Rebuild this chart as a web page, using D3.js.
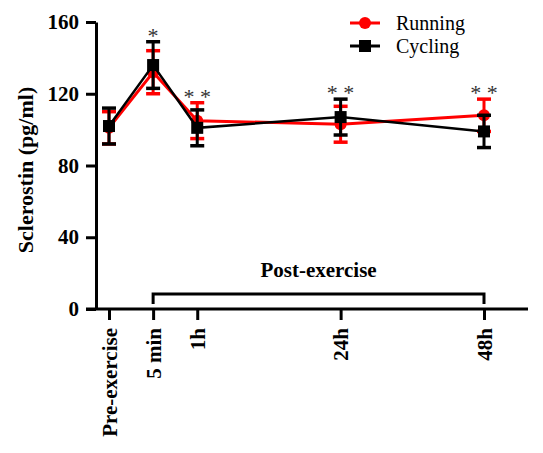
<!DOCTYPE html>
<html><head><meta charset="utf-8">
<script src="https://cdn.jsdelivr.net/npm/d3@7"></script>
<style>body{margin:0;background:#fff}svg{display:block}</style>
</head><body>
<svg id="c" width="543" height="453"></svg>
<script>
const categories = ["Pre-exercise", "5 min", "1h", "24h", "48h"];
const timePos = [0, 1, 2, 5.25, 8.5];
const runningMean = [101, 132, 105, 103, 108];
const runningErr = [9, 12, 10, 10, 9];
const cyclingMean = [102, 136, 101, 107, 99];
const cyclingErr = [10, 13, 10, 10, 9];
const significance = ["", "*", "* *", "* *", "* *"];
const yTicks = [0, 40, 80, 120, 160];

const svg = d3.select("#c");
const font = "'Liberation Serif', 'Times New Roman', serif";
const x = d3.scaleLinear().domain([0, 8.5]).range([109, 484]);
const y = d3.scaleLinear().domain([0, 160]).range([309, 22]);

// Y axis
const yAxis = svg.append("g").attr("transform", "translate(96,0)")
  .call(d3.axisLeft(y).tickValues(yTicks).tickSize(10).tickPadding(7).tickSizeOuter(0));
yAxis.select(".domain").attr("stroke", "#000").attr("stroke-width", 3);
yAxis.selectAll(".tick line").attr("stroke", "#000").attr("stroke-width", 3);
yAxis.selectAll(".tick text").attr("font-family", font).attr("font-weight", "bold")
  .attr("font-size", 21).attr("fill", "#000");

// X axis
const xAxis = svg.append("g").attr("transform", "translate(0,309)")
  .call(d3.axisBottom(x).tickValues(timePos).tickFormat((d, i) => categories[i]).tickSize(11).tickSizeOuter(0));
xAxis.select(".domain").remove();
xAxis.append("line").attr("x1", 86).attr("x2", 528).attr("y1", 0).attr("y2", 0)
  .attr("stroke", "#000").attr("stroke-width", 3);
xAxis.selectAll(".tick line").attr("stroke", "#000").attr("stroke-width", 3);
xAxis.selectAll(".tick text").attr("font-family", font).attr("font-weight", "bold")
  .attr("font-size", 21).attr("fill", "#000")
  .attr("transform", "rotate(-90)").attr("text-anchor", "end")
  .attr("x", -19).attr("y", 0).attr("dy", "0.35em");

// Y title
svg.append("text").attr("transform", "translate(33,170) rotate(-90)")
  .attr("text-anchor", "middle").attr("font-family", font).attr("font-weight", "bold")
  .attr("font-size", 22).text("Sclerostin (pg/ml)");

// Post-exercise bracket
const bx1 = x(timePos[1]), bx2 = x(timePos[4]);
svg.append("path").attr("d", `M${bx1},304 V294 H${bx2} V304`)
  .attr("fill", "none").attr("stroke", "#000").attr("stroke-width", 3);
svg.append("text").attr("x", (bx1 + bx2) / 2).attr("y", 277).attr("text-anchor", "middle")
  .attr("font-family", font).attr("font-weight", "bold").attr("font-size", 21).text("Post-exercise");

function drawSeries(mean, err, color, lw, marker) {
  const g = svg.append("g");
  const pts = mean.map((m, i) => ({ x: timePos[i], m, e: err[i] }));
  g.append("path").datum(pts)
    .attr("d", d3.line().x(d => x(d.x)).y(d => y(d.m)))
    .attr("fill", "none").attr("stroke", color).attr("stroke-width", lw);
  pts.forEach(d => {
    const cx = x(d.x);
    g.append("line").attr("x1", cx).attr("x2", cx).attr("y1", y(d.m - d.e)).attr("y2", y(d.m + d.e))
      .attr("stroke", color).attr("stroke-width", 3);
    [d.m - d.e, d.m + d.e].forEach(v => {
      g.append("line").attr("x1", cx - 7).attr("x2", cx + 7).attr("y1", y(v)).attr("y2", y(v))
        .attr("stroke", color).attr("stroke-width", 3.5);
    });
    if (marker === "circle") {
      g.append("circle").attr("cx", cx).attr("cy", y(d.m)).attr("r", 6).attr("fill", color);
    } else {
      g.append("rect").attr("x", cx - 6).attr("y", y(d.m) - 6).attr("width", 12).attr("height", 12).attr("fill", color);
    }
  });
}
drawSeries(runningMean, runningErr, "#ff0000", 3, "circle");
drawSeries(cyclingMean, cyclingErr, "#000000", 2.5, "square");

// Significance marks
significance.forEach((s, i) => {
  if (!s) return;
  const top = Math.max(runningMean[i] + runningErr[i], cyclingMean[i] + cyclingErr[i]);
  svg.append("text").attr("x", x(timePos[i])).attr("y", y(top) + 1)
    .attr("text-anchor", "middle").attr("font-family", font).attr("font-size", 22)
    .attr("fill", "#333").attr("xml:space", "preserve").text(s);
});

// Legend
const legend = [{ name: "Running", color: "#ff0000", marker: "circle" }, { name: "Cycling", color: "#000", marker: "square" }];
legend.forEach((l, i) => {
  const ly = 23 + i * 23;
  svg.append("line").attr("x1", 350).attr("x2", 380).attr("y1", ly).attr("y2", ly)
    .attr("stroke", l.color).attr("stroke-width", 3);
  if (l.marker === "circle") svg.append("circle").attr("cx", 365).attr("cy", ly).attr("r", 6).attr("fill", l.color);
  else svg.append("rect").attr("x", 359).attr("y", ly - 6).attr("width", 12).attr("height", 12).attr("fill", l.color);
  svg.append("text").attr("x", 396).attr("y", ly + 7).attr("font-family", font).attr("font-size", 20)
    .attr("fill", "#000").text(l.name);
});
</script>
</body></html>
